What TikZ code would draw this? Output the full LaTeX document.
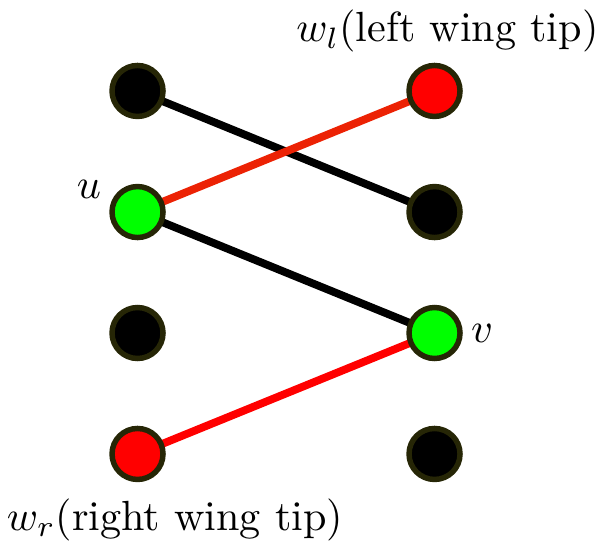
\documentclass[tikz,border=0pt]{standalone}
\usetikzlibrary{backgrounds}
\definecolor{rimcol}{RGB}{38,38,6}
\definecolor{orred}{RGB}{236,34,4}
\tikzset{
  vtx/.style={circle, draw=rimcol, line width=1.3pt, inner sep=0pt, minimum size=0.425cm},
  blk/.style={vtx, fill=black},
  grn/.style={vtx, fill=green},
  rd/.style={vtx, fill=red},
  edgeline/.style={line width=1.85pt},
}
\begin{document}
\begin{tikzpicture}
\useasboundingbox (0,0) rectangle (5,4.5);
\node[blk] (l1) at (1.146,3.742) {};
\node[grn] (u)  at (1.146,2.733) {};
\node[blk] (l3) at (1.146,1.725) {};
\node[rd]  (wr) at (1.146,0.717) {};
\node[rd]  (wl) at (3.621,3.742) {};
\node[blk] (r2) at (3.621,2.733) {};
\node[grn] (v)  at (3.621,1.725) {};
\node[blk] (r4) at (3.621,0.717) {};
\begin{scope}[on background layer]
\draw[edgeline, black] (l1.center) -- (r2.center);
\draw[edgeline, orred] (u.center) -- (wl.center);
\draw[edgeline, black] (u.center) -- (v.center);
\draw[edgeline, red] (wr.center) -- (v.center);
\end{scope}
\node (ul) at (0.742,2.925) {$u$};
\node (vl) at (4.017,1.725) {$v$};
\node[anchor=base] (wll) at (3.729,4.15) {$w_l$(left wing tip)};
\node[anchor=base] (wrl) at (1.458,0.083) {$w_r$(right wing tip)};
\end{tikzpicture}
\end{document}
